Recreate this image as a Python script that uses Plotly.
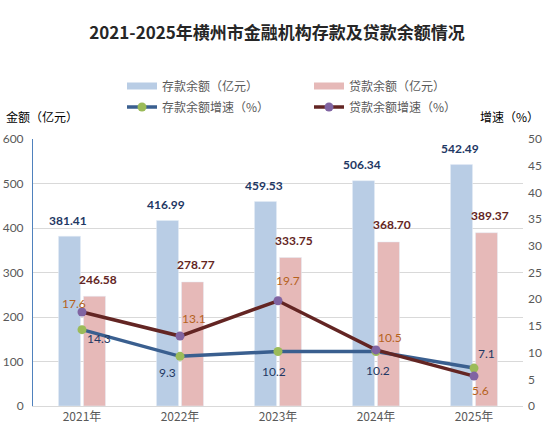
import plotly.graph_objects as go

years = ["2021年", "2022年", "2023年", "2024年", "2025年"]
deposit = [381.41, 416.99, 459.53, 506.34, 542.49]
loan = [246.58, 278.77, 333.75, 368.70, 389.37]
deposit_growth = [14.3, 9.3, 10.2, 10.2, 7.1]
loan_growth = [17.6, 13.1, 19.7, 10.5, 5.6]

# label offsets (px) for the growth labels
dep_shift = [(17, -9), (-13, -16), (-4, -20), (2, -19), (12, 15)]
loan_shift = [(-8, 9), (14, 18), (10, 20), (14, 12), (6, -14)]

FONT = "Lato, Noto Sans CJK SC, sans-serif"
CJK = "Noto Sans CJK SC, sans-serif"
BLUE_BAR = "#B9CDE5"
PINK_BAR = "#E6B9B8"
BLUE_LINE = "#3A5F8F"
RED_LINE = "#632523"

W, H = 554, 436
L, R, T, B = 33, 31, 139, 30


def px_x(px):
    return (px - L) / (W - L - R)


def px_y(py):
    return (H - B - py) / (H - T - B)


fig = go.Figure()

fig.add_trace(go.Bar(x=years, y=deposit, marker_color=BLUE_BAR, showlegend=False,
                     name="存款余额（亿元）"))
fig.add_trace(go.Bar(x=years, y=loan, marker_color=PINK_BAR, showlegend=False,
                     name="贷款余额（亿元）"))

# legend swatches (wide bars like the original)
fig.add_trace(go.Scatter(x=[None], y=[None], mode="lines", name="存款余额（亿元）",
                         line=dict(color=BLUE_BAR, width=7), legend="legend"))
fig.add_trace(go.Scatter(x=[None], y=[None], mode="lines", name="贷款余额（亿元）",
                         line=dict(color=PINK_BAR, width=7), legend="legend"))

fig.add_trace(go.Scatter(x=years, y=deposit_growth, yaxis="y2", mode="lines+markers",
                         name="存款余额增速（%）", legend="legend2",
                         line=dict(color=BLUE_LINE, width=3.5),
                         marker=dict(color="#9BBB59", size=9)))
fig.add_trace(go.Scatter(x=years, y=loan_growth, yaxis="y2", mode="lines+markers",
                         name="贷款余额增速（%）", legend="legend2",
                         line=dict(color=RED_LINE, width=3.5),
                         marker=dict(color="#8064A2", size=9)))

ann = []
for yr, v in zip(years, deposit):
    ann.append(dict(x=yr, y=v, text=f"{v:.2f}", showarrow=False, xshift=-14, yshift=16,
                    font=dict(family=FONT, size=12, color="#1F3864", weight="bold")))
for yr, v in zip(years, loan):
    ann.append(dict(x=yr, y=v, text=f"{v:.2f}", showarrow=False, xshift=16, yshift=17,
                    font=dict(family=FONT, size=12, color="#632523", weight="bold")))
for yr, v, (dx, dy) in zip(years, deposit_growth, dep_shift):
    ann.append(dict(x=yr, y=v, yref="y2", text=f"{v}", showarrow=False, xshift=dx, yshift=dy,
                    font=dict(family=FONT, size=12, color="#1F3864")))
for yr, v, (dx, dy) in zip(years, loan_growth, loan_shift):
    ann.append(dict(x=yr, y=v, yref="y2", text=f"{v}", showarrow=False, xshift=dx, yshift=dy,
                    font=dict(family=FONT, size=12, color="#B5621C")))

ann.append(dict(text="金额（亿元）", xref="paper", yref="paper", x=px_x(4),
                y=px_y(116), xanchor="left", yanchor="middle", showarrow=False,
                font=dict(family=CJK, size=12, color="#000000")))
ann.append(dict(text="增速（%）", xref="paper", yref="paper", x=px_x(541),
                y=px_y(116), xanchor="right", yanchor="middle", showarrow=False,
                font=dict(family=CJK, size=12, color="#000000")))

fig.update_layout(
    width=W, height=H,
    margin=dict(l=L, r=R, t=T, b=B),
    paper_bgcolor="white", plot_bgcolor="white",
    title=dict(text="<b>2021-2025年横州市金融机构存款及贷款余额情况</b>",
               x=0.5, xref="container", y=1 - 33 / H, yref="container",
               xanchor="center", yanchor="middle",
               font=dict(family=CJK, size=17, color="#262626")),
    barmode="group", bargap=0.49, bargroupgap=0.12,
    font=dict(family=FONT, size=12, color="#595959"),
    xaxis=dict(showline=True, linecolor="#D9D9D9", linewidth=1, ticks="",
               automargin=False,
               tickfont=dict(family=CJK, size=12, color="#595959")),
    yaxis=dict(range=[0, 600], dtick=100, showgrid=True, gridcolor="#D9D9D9",
               showline=True, linecolor="#4F81BD", linewidth=1, zeroline=False,
               automargin=False, ticks="", ticklabelstandoff=6,
               tickfont=dict(size=12, color="#595959")),
    yaxis2=dict(range=[0, 50], dtick=5, overlaying="y", side="right", showgrid=False,
                zeroline=False, showline=False, ticks="", ticklabelstandoff=4,
                automargin=False, tickfont=dict(size=12, color="#595959")),
    legend=dict(orientation="h", xref="container", yref="container",
                x=122 / W, y=1 - 86 / H, xanchor="left", yanchor="middle",
                entrywidth=142, font=dict(family=CJK, size=12, color="#595959")),
    legend2=dict(orientation="h", xref="container", yref="container",
                 x=122 / W, y=1 - 107 / H, xanchor="left", yanchor="middle",
                 entrywidth=142, font=dict(family=CJK, size=12, color="#595959")),
    annotations=ann,
)

# drop the browser's default 8px body margin so the figure sits at the page origin
fig.write_html("out.html", config={"displayModeBar": False},
               post_script="document.body.style.margin='0';")
